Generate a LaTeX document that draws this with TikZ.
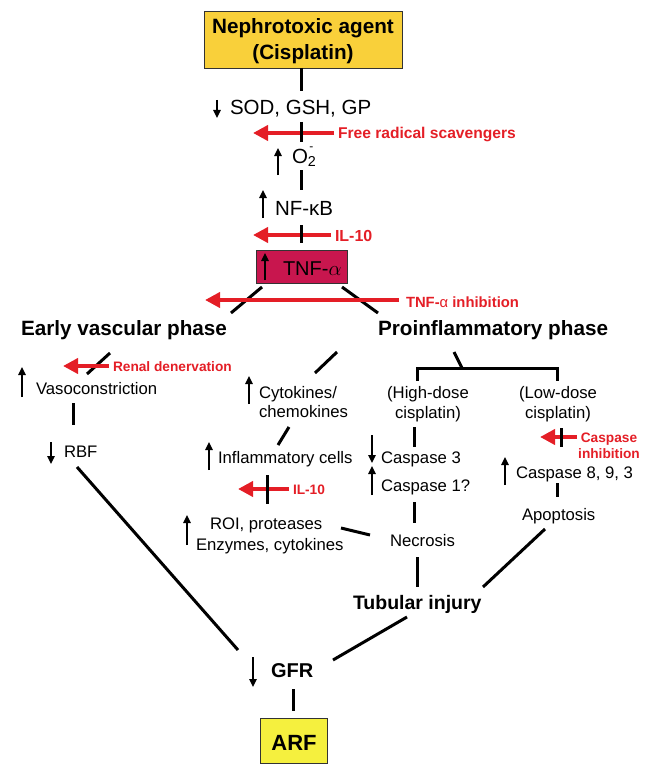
\documentclass[tikz,border=0pt]{standalone}
\usepackage{fontspec}
\setmainfont{Liberation Sans}
\usetikzlibrary{arrows.meta}
\definecolor{nephyellow}{RGB}{249,208,58}
\definecolor{arfyellow}{RGB}{245,240,62}
\definecolor{tnfred}{RGB}{200,22,78}
\definecolor{inhred}{RGB}{228,30,38}
\newcommand\FtBig{\fontsize{20.5}{24}\selectfont}
\newcommand\FtReg{\fontsize{16.7}{20}\selectfont}
\newcommand\FtHead{\fontsize{20.7}{24}\selectfont\bfseries}
\newcommand\FtRedA{\fontsize{15.6}{18}\selectfont\bfseries}
\newcommand\FtRedB{\fontsize{13.7}{16}\selectfont\bfseries}
\begin{document}
\begin{tikzpicture}[x=1pt,y=-1pt,
  lbl/.style={inner sep=0pt, outer sep=0pt, anchor=base west},
  clbl/.style={inner sep=0pt, outer sep=0pt, anchor=base},
  big/.style={lbl, font=\FtBig},
  reg/.style={lbl, font=\FtReg},
  creg/.style={clbl, font=\FtReg},
  head/.style={lbl, font=\FtHead},
  inhA/.style={lbl, text=inhred, font=\FtRedA},
  inhB/.style={lbl, text=inhred, font=\FtRedB},
  cinhB/.style={clbl, text=inhred, font=\FtRedB},
  conn/.style={line width=3pt},
  updown/.style={line width=1.4pt, -{Triangle[length=8pt,width=7.5pt]}},
  inh/.style={draw=inhred, line width=4pt, -{Triangle[length=15pt,width=15pt]}},
  boxnode/.style={draw=black!80, line width=0.8pt, inner sep=0pt, outer sep=0pt}
]
\useasboundingbox (0,0) rectangle (657,773);

% ---------- boxes ----------
\node[boxnode, fill=nephyellow, minimum width=198pt, minimum height=57pt] (neph) at (303,39.5) {};
\node[clbl, font=\FtHead] (nephA) at (303,34) {Nephrotoxic agent};
\node[clbl, font=\FtHead] (nephB) at (303,60) {(Cisplatin)};

\node[boxnode, fill=tnfred, minimum width=91pt, minimum height=33pt] (tnf) at (301.5,266.5) {};
\node[big, font=\fontsize{20}{24}\selectfont] (tnfT) at (283,275) {TNF-$\alpha$};

\node[boxnode, fill=arfyellow, minimum width=67pt, minimum height=45pt] (arf) at (293.5,740.5) {};
\node[clbl, font=\fontsize{22}{26}\selectfont\bfseries] (arfT) at (294,750) {ARF};

% ---------- texts ----------
\node[big] (sod) at (230,115) {SOD, GSH, GP};
\node[big] (o2) at (292,163) {O\textsubscript{2}\kern-0.34em\raisebox{0.62em}{\fontsize{12}{12}\selectfont -}};
\node[big] (nfkb) at (275,215) {NF-κB};

\node[head] (early) at (21,335) {Early vascular phase};
\node[head] (proinf) at (378,335) {Proinflammatory phase};

\node[reg] (vaso) at (36,394) {Vasoconstriction};
\node[reg] (rbf) at (64,457) {RBF};
\node[reg] (cyto) at (259,398) {Cytokines/};
\node[reg] (chemo) at (259,417) {chemokines};
\node[reg] (infl) at (218,463) {Inflammatory cells};
\node[reg] (roi) at (210,529) {ROI, proteases};
\node[reg] (enz) at (196,550) {Enzymes, cytokines};

\node[creg] (high) at (428,398) {(High-dose};
\node[creg] (highB) at (428,418) {cisplatin)};
\node[creg] (low) at (558,398) {(Low-dose};
\node[creg] (lowB) at (558,418) {cisplatin)};

\node[reg] (casp3) at (381,463) {Caspase 3};
\node[reg] (casp1) at (381,491) {Caspase 1?};
\node[reg] (casp8) at (516,478) {Caspase 8, 9, 3};
\node[reg] (apop) at (522,520) {Apoptosis};
\node[reg] (necr) at (390,546) {Necrosis};

\node[lbl, font=\fontsize{19.5}{23}\selectfont\bfseries] (tub) at (353,609) {Tubular injury};
\node[lbl, font=\fontsize{20}{24}\selectfont\bfseries] (gfr) at (271,677) {GFR};

% red labels
\node[inhA] (frs) at (338,138.5) {Free radical scavengers};
\node[inhA, font=\fontsize{16}{19}\selectfont\bfseries] (il10a) at (335,241) {IL-10};
\node[inhA, font=\fontsize{14.8}{18}\selectfont\bfseries] (tnfinh) at (406,307) {TNF-\textmd{α} inhibition};
\node[inhB] (renal) at (113,371) {Renal denervation};
\node[inhB] (il10b) at (293,494) {IL-10};
\node[cinhB] (caspinh) at (609,442) {Caspase};
\node[cinhB] (caspinhB) at (609,458) {inhibition};

% ---------- coordinates for connectors ----------
\coordinate (v1a) at (301,68);  \coordinate (v1b) at (301,91);
\coordinate (v2a) at (301,122); \coordinate (v2b) at (301,142);
\coordinate (v3a) at (301,170); \coordinate (v3b) at (301,190);
\coordinate (v4a) at (301,225); \coordinate (v4b) at (301,243);
\coordinate (tl1) at (262,287); \coordinate (tl2) at (231,313);
\coordinate (tr1) at (342,287); \coordinate (tr2) at (378,313);
\coordinate (ev1) at (110,353); \coordinate (ev2) at (87,374);
\coordinate (vr1) at (73,403);  \coordinate (vr2) at (73,425);
\coordinate (rg1) at (77,467);  \coordinate (rg2) at (238,650);
\coordinate (pc1) at (337,352); \coordinate (pc2) at (315,373);
\coordinate (ci1) at (289,427); \coordinate (ci2) at (278,445);
\coordinate (ir1) at (267,475); \coordinate (ir2) at (267,504);
\coordinate (rn1) at (341,528); \coordinate (rn2) at (370,535);
\coordinate (pb1) at (454,352); \coordinate (pb2) at (462,368);
\coordinate (bl) at (417,368);  \coordinate (br) at (557,368);
\coordinate (bld) at (417,381); \coordinate (brd) at (557,381);
\coordinate (hc1) at (414,427); \coordinate (hc2) at (414,447);
\coordinate (cn1) at (414,502); \coordinate (cn2) at (414,523);
\coordinate (nt1) at (417,557); \coordinate (nt2) at (417,587);
\coordinate (lc1) at (561,428); \coordinate (lc2) at (561,447);
\coordinate (ca1) at (557,483); \coordinate (ca2) at (557,497);
\coordinate (at1) at (545,529); \coordinate (at2) at (483,587);
\coordinate (tg1) at (407,617); \coordinate (tg2) at (333,660);
\coordinate (ga1) at (293,689); \coordinate (ga2) at (293,711);

% ---------- black connectors ----------
\draw[conn] (v1a) -- (v1b);
\draw[conn] (v3a) -- (v3b);
\draw[conn] (tl1) -- (tl2);
\draw[conn] (tr1) -- (tr2);
\draw[conn] (ev1) -- (ev2);
\draw[conn] (vr1) -- (vr2);
\draw[conn] (rg1) -- (rg2);
\draw[conn] (pc1) -- (pc2);
\draw[conn] (ci1) -- (ci2);
\draw[conn] (rn1) -- (rn2);
\draw[conn] (pb1) -- (pb2);
\draw[conn] (bld) -- (bl) -- (br) -- (brd);
\draw[conn] (hc1) -- (hc2);
\draw[conn] (cn1) -- (cn2);
\draw[conn] (nt1) -- (nt2);
\draw[conn] (ca1) -- (ca2);
\draw[conn] (at1) -- (at2);
\draw[conn] (tg1) -- (tg2);
\draw[conn] (ga1) -- (ga2);

% ---------- red inhibition arrows ----------
\coordinate (i1a) at (334,133); \coordinate (i1b) at (253,133);
\coordinate (i2a) at (331,235); \coordinate (i2b) at (253,235);
\coordinate (i3a) at (399,300); \coordinate (i3b) at (205,300);
\coordinate (i4a) at (109,366); \coordinate (i4b) at (63,366);
\coordinate (i5a) at (289,489); \coordinate (i5b) at (238,489);
\coordinate (i6a) at (577,437); \coordinate (i6b) at (540,437);
\draw[inh] (i1a) -- (i1b);
\draw[inh] (i2a) -- (i2b);
\draw[inh] (i3a) -- (i3b);
\draw[inh] (i4a) -- (i4b);
\draw[inh] (i5a) -- (i5b);
\draw[inh] (i6a) -- (i6b);
% black ticks crossing the red arrows
\draw[conn] (v2a) -- (v2b);
\draw[conn] (v4a) -- (v4b);
\draw[conn] (ir1) -- (ir2);
\draw[conn] (lc1) -- (lc2);

% ---------- small up/down indicator arrows ----------
\draw[updown] (217,100) -- (217,118);
\draw[updown] (278,175) -- (278,148);
\draw[updown] (263,218) -- (263,190);
\draw[updown] (265,280) -- (265,253);
\draw[updown] (22,397) -- (22,367);
\draw[updown] (51,442) -- (51,464);
\draw[updown] (249,404) -- (249,376);
\draw[updown] (209,470) -- (209,442);
\draw[updown] (187,545) -- (187,515);
\draw[updown] (372,435) -- (372,463);
\draw[updown] (372,495) -- (372,466);
\draw[updown] (505,485) -- (505,457);
\draw[updown] (253,657) -- (253,687);
\end{tikzpicture}
\end{document}
